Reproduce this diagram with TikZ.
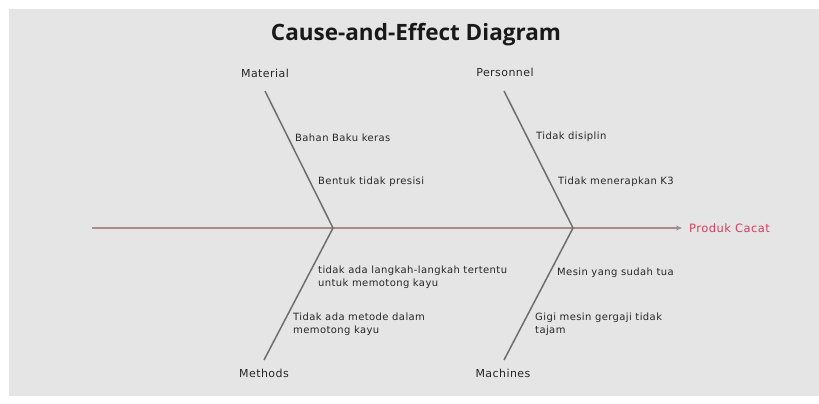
\documentclass[tikz,border=0pt]{standalone}
\usepackage{fontspec}
\setmainfont{Open Sans}
\newfontfamily\smallf[LetterSpace=4]{DejaVu Sans}
\usetikzlibrary{arrows.meta}
\definecolor{panel}{HTML}{E5E5E5}
\definecolor{bone}{HTML}{6E6E6E}
\definecolor{spinec}{HTML}{A88C8C}
\definecolor{effectc}{HTML}{D0405E}
\tikzset{
  cat/.style={font=\smallf\fontsize{11}{12}\selectfont, text=black!85, inner sep=0pt},
  cause/.style={font=\smallf\fontsize{10}{13}\selectfont, text=black!85, anchor=west, inner sep=0pt, align=left},
  bonel/.style={draw=bone, line width=1.5pt},
  spinel/.style={draw=spinec, line width=1.4pt, -{Stealth[length=6pt,width=5pt]}},
}
\begin{document}
\begin{tikzpicture}[x=1pt,y=-1pt]
\useasboundingbox (0,0) rectangle (819,404);
\fill[white] (0,0) rectangle (819,404);
\fill[panel] (9,9) rectangle (819,396);
\node[font=\bfseries\fontsize{22.5}{26}\selectfont, text=black!90, inner sep=0pt] (title) at (416,35) {Cause-and-Effect Diagram};
% category labels
\node[cat] (mat) at (265,73) {Material};
\node[cat] (per) at (505,72) {Personnel};
\node[cat] (met) at (264,373) {Methods};
\node[cat] (mac) at (503,373) {Machines};
% coordinates
\coordinate (s0) at (92,228);
\coordinate (j1) at (333,228);
\coordinate (j2) at (573,228);
\coordinate (s1) at (682,228);
\coordinate (m1) at (265,91);
\coordinate (p1) at (504,91);
\coordinate (t1) at (264,360);
\coordinate (c1) at (504,360);
% spine
\draw[spinel] (s0) -- (s1);
\node[anchor=west, font=\smallf\fontsize{11.5}{12}\selectfont, text=effectc, inner sep=0pt] (eff) at (689,228) {Produk Cacat};
% bones
\draw[bonel] (m1) -- (j1);
\draw[bonel] (j1) -- (t1);
\draw[bonel] (p1) -- (j2);
\draw[bonel] (j2) -- (c1);
% causes
\node[cause] (a1) at (295,138) {Bahan Baku keras};
\node[cause] (a2) at (318,182) {Bentuk tidak presisi};
\node[cause] (b1) at (536,137) {Tidak disiplin};
\node[cause] (b2) at (558,182) {Tidak menerapkan K3};
\node[cause] (c1t) at (318,277.5) {tidak ada langkah-langkah tertentu\\untuk memotong kayu};
\node[cause] (c2t) at (293,324.5) {Tidak ada metode dalam\\memotong kayu};
\node[cause] (d1) at (557,273) {Mesin yang sudah tua};
\node[cause] (d2) at (535,324.5) {Gigi mesin gergaji tidak\\tajam};
\end{tikzpicture}
\end{document}
